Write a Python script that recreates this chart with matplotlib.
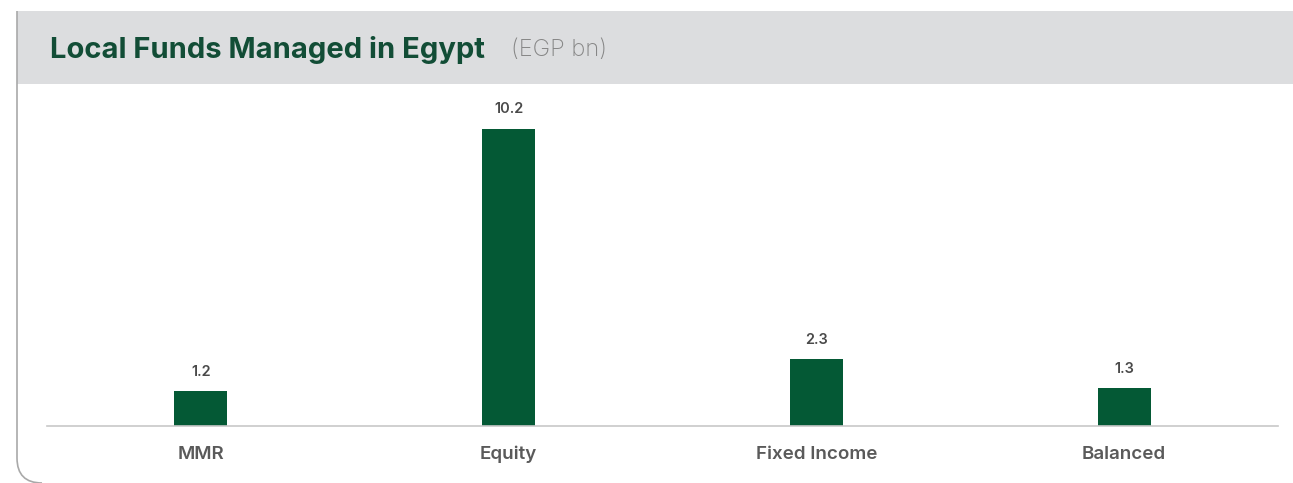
import matplotlib
matplotlib.use("Agg")
import matplotlib.pyplot as plt
from matplotlib.patches import Rectangle, PathPatch
from matplotlib.path import Path

categories = ["MMR", "Equity", "Fixed Income", "Balanced"]
values = [1.2, 10.2, 2.3, 1.3]
value_labels = ["1.2", "10.2", "2.3", "1.3"]
title = "Local Funds Managed in Egypt"
unit = "(EGP bn)"

W, H = 1293, 483
GREEN = "#045935"
TITLE_GREEN = "#124d36"

plt.rcParams["font.family"] = ["Inter", "DejaVu Sans"]


def fx(x):
    return x / W


def fy(y):
    return 1 - y / H


fig = plt.figure(figsize=(W / 100, H / 100), dpi=100)

# header band
fig.add_artist(Rectangle((fx(17), fy(84)), fx(W) - fx(17), fy(11) - fy(84),
                         transform=fig.transFigure, facecolor="#dcdddf",
                         edgecolor="none", zorder=0))
# left border with rounded corner
verts = [(fx(17), fy(11)), (fx(17), fy(458)), (fx(17), fy(483)), (fx(42), fy(483))]
codes = [Path.MOVETO, Path.LINETO, Path.CURVE3, Path.CURVE3]
fig.add_artist(PathPatch(Path(verts, codes), transform=fig.transFigure,
                         facecolor="none", edgecolor="#a9a9a9", lw=1.2, zorder=1))

fig.text(fx(50), fy(50), title, fontsize=21, fontweight="bold",
         color=TITLE_GREEN, va="center", ha="left")
fig.text(fx(511), fy(50), unit, fontsize=17, fontweight="light",
         color="#868686", va="center", ha="left")

ax = fig.add_axes([fx(47), fy(426), fx(1278) - fx(47), fy(94) - fy(426)])
x = list(range(len(categories)))
bars = ax.bar(x, values, width=0.172, color=GREEN, zorder=2)
ax.set_xlim(-0.5, 3.5)
ax.set_ylim(0, 11.4)

for b, lab in zip(bars, value_labels):
    ax.annotate(lab, (b.get_x() + b.get_width() / 2, b.get_height()),
                xytext=(0, 9), textcoords="offset points", ha="center",
                va="bottom", fontsize=10.5, fontweight="semibold", color="#4a4a4a")

ax.set_xticks(x, labels=categories)
ax.tick_params(axis="x", length=0, pad=23.5, labelsize=13.5, labelcolor="#5a5a5a")
for t in ax.get_xticklabels():
    t.set_fontweight("semibold")
    t.set_va("baseline")
ax.set_yticks([])
for side in ["top", "left", "right"]:
    ax.spines[side].set_visible(False)
ax.spines["bottom"].set_color("#c8c8c8")
ax.spines["bottom"].set_linewidth(1.2)
ax.patch.set_alpha(0)

fig.savefig("out.png", dpi=100)
